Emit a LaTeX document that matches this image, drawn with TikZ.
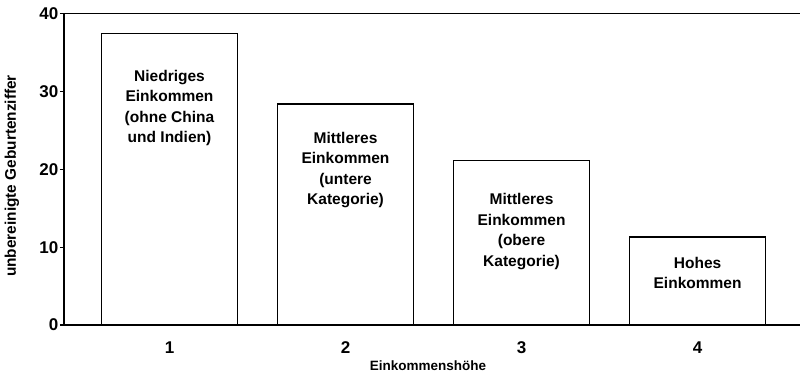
\documentclass[tikz,border=0pt]{standalone}
\usepackage{fontspec}
\setmainfont{Liberation Sans}
\usepackage{tikz}
\usetikzlibrary{positioning}

\tikzset{
  barbox/.style={draw,line width=1.2pt,fill=white},
  bartext/.style={font=\fontsize{15.5}{20.5}\selectfont\bfseries,align=center},
  ticklabel/.style={font=\fontsize{17}{19}\selectfont\bfseries},
  axislabel/.style={font=\fontsize{13.5}{16}\selectfont\bfseries}
}

\begin{document}
\begin{tikzpicture}[x=176pt,y=7.78pt]
    \useasboundingbox (0.037,-6.555) rectangle (4.582,41.77);

    % Axes
    \draw[line width=1.3pt] (4.582,40) -- (0.4006,40) -- (0.4006,0) -- (4.582,0);

    % Ticks on the y axis
    \foreach \v in {0,10,20,30,40} {
        \draw[line width=1.3pt] (0.3778,\v) -- (0.4006,\v);
        \node[ticklabel,anchor=east,inner sep=0pt] (t\v) at (0.3693,\v) {\v};
    }

    % Bars
    \draw[barbox] (0.614,0) rectangle (1.386,37.5);
    \draw[barbox] (1.614,0) rectangle (2.386,28.4);
    \draw[barbox] (2.614,0) rectangle (3.386,21.1);
    \draw[barbox] (3.614,0) rectangle (4.386,11.3);

    % Texts in the bars
    \node[bartext] (b1) at (1,27.9) {Niedriges\\Einkommen\\(ohne China\\und Indien)};
    \node[bartext] (b2) at (2,19.9) {Mittleres\\Einkommen\\(untere\\Kategorie)};
    \node[bartext] (b3) at (3,12.0) {Mittleres\\Einkommen\\(obere\\Kategorie)};
    \node[bartext] (b4) at (4,6.7) {Hohes\\Einkommen};

    % Labels on the x axis
    \foreach \i in {1,2,3,4}
        \node[ticklabel] (x\i) at (\i,-2.92) {\i};

    \node[axislabel] (xlab) at (2.469,-5.27) {Einkommenshöhe};
    \node[axislabel,font=\fontsize{15.4}{18}\selectfont\bfseries,rotate=90] (ylab) at (0.105,19.15) {unbereinigte Geburtenziffer};
\end{tikzpicture}
\end{document}
